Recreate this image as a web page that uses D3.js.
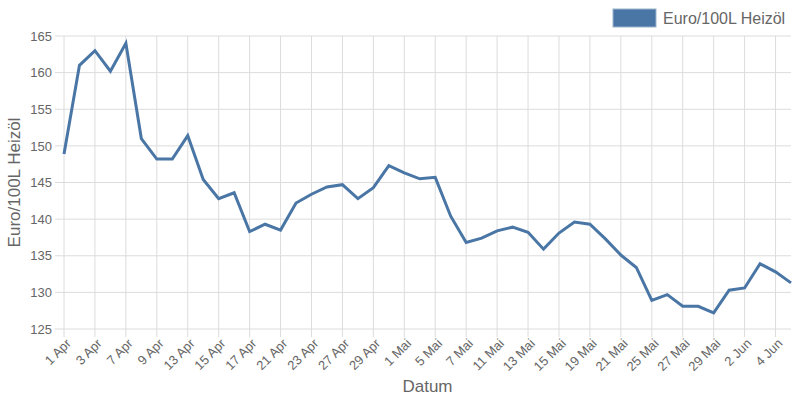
<!DOCTYPE html>
<html><head><meta charset="utf-8">
<script src="https://cdn.jsdelivr.net/npm/d3@7"></script>
<style>body{margin:0;background:#fff}</style>
</head><body>
<svg id="chart" width="800" height="400"></svg>
<script>
const categories = ["1 Apr","2 Apr","3 Apr","4 Apr","7 Apr","8 Apr","9 Apr","10 Apr","13 Apr","14 Apr","15 Apr","16 Apr","17 Apr","18 Apr","21 Apr","22 Apr","23 Apr","24 Apr","27 Apr","28 Apr","29 Apr","30 Apr","1 Mai","2 Mai","5 Mai","6 Mai","7 Mai","8 Mai","11 Mai","12 Mai","13 Mai","14 Mai","15 Mai","16 Mai","19 Mai","20 Mai","21 Mai","22 Mai","25 Mai","26 Mai","27 Mai","28 Mai","29 Mai","30 Mai","2 Jun","3 Jun","4 Jun","5 Jun"];
const values = [148.9,161.0,163.0,160.2,164.0,151.0,148.2,148.2,151.4,145.4,142.8,143.6,138.3,139.3,138.5,142.2,143.4,144.4,144.7,142.8,144.3,147.3,146.3,145.5,145.7,140.4,136.8,137.4,138.4,138.9,138.2,135.9,138.1,139.6,139.3,137.3,135.1,133.4,128.9,129.7,128.1,128.1,127.2,130.3,130.6,133.9,132.8,131.3];
const yTicks = [125,130,135,140,145,150,155,160,165];
const seriesName = "Euro/100L Heizöl";
const xTitle = "Datum";
const yTitle = "Euro/100L Heizöl";

const svg = d3.select("#chart");
const m = {left:64, right:9, top:36, bottom:71};
const W = 800, H = 400;
const x = d3.scalePoint().domain(categories).range([m.left, W - m.right]);
const y = d3.scaleLinear().domain([125,165]).range([H - m.bottom, m.top]);
const font = "'Liberation Sans', Arial, sans-serif";
const grid = "#dcdcdc";

const shown = categories.filter((d,i) => i % 2 === 0);
svg.append("g").selectAll("line").data(shown).join("line")
  .attr("x1", d => x(d)).attr("x2", d => x(d))
  .attr("y1", m.top).attr("y2", H - m.bottom + 8)
  .attr("stroke", grid).attr("stroke-width", 1);
svg.append("g").selectAll("line").data(yTicks).join("line")
  .attr("x1", m.left - 9).attr("x2", W - m.right)
  .attr("y1", d => y(d)).attr("y2", d => y(d))
  .attr("stroke", grid).attr("stroke-width", 1);

const yAxis = svg.append("g").attr("transform", `translate(${m.left},0)`)
  .call(d3.axisLeft(y).tickValues(yTicks).tickSize(0).tickPadding(12));
yAxis.select(".domain").remove();
yAxis.selectAll("text").attr("fill", "#666").style("font-family", font).style("font-size", "13px");

const xAxis = svg.append("g").attr("transform", `translate(0,${H - m.bottom})`)
  .call(d3.axisBottom(x).tickValues(shown).tickSize(0).tickPadding(0));
xAxis.select(".domain").remove();
xAxis.selectAll("text")
  .attr("fill", "#666").style("font-family", font).style("font-size", "13px")
  .attr("text-anchor", "end")
  .attr("transform", "translate(4,12) rotate(-45)")
  .attr("dy", "0.35em");

svg.append("path").datum(values)
  .attr("fill", "none").attr("stroke", "#4a76a6").attr("stroke-width", 3)
  .attr("stroke-linejoin", "miter")
  .attr("d", d3.line().x((d,i) => x(categories[i])).y(d => y(d)));

svg.append("text").attr("x", (m.left + W - m.right)/2).attr("y", 392)
  .attr("text-anchor", "middle").attr("fill", "#666")
  .style("font-family", font).style("font-size", "17px").text(xTitle);
svg.append("text").attr("transform", `translate(20,${(m.top + H - m.bottom)/2}) rotate(-90)`)
  .attr("text-anchor", "middle").attr("fill", "#666")
  .style("font-family", font).style("font-size", "17px").text(yTitle);

const lg = svg.append("g");
lg.append("rect").attr("x", 613).attr("y", 9).attr("width", 43).attr("height", 18)
  .attr("fill", "#4a76a6").attr("stroke", "#9bb3cc").attr("stroke-width", 1);
lg.append("text").attr("x", 663).attr("y", 24).attr("fill", "#666")
  .style("font-family", font).style("font-size", "16px").text(seriesName);
</script>
</body></html>
